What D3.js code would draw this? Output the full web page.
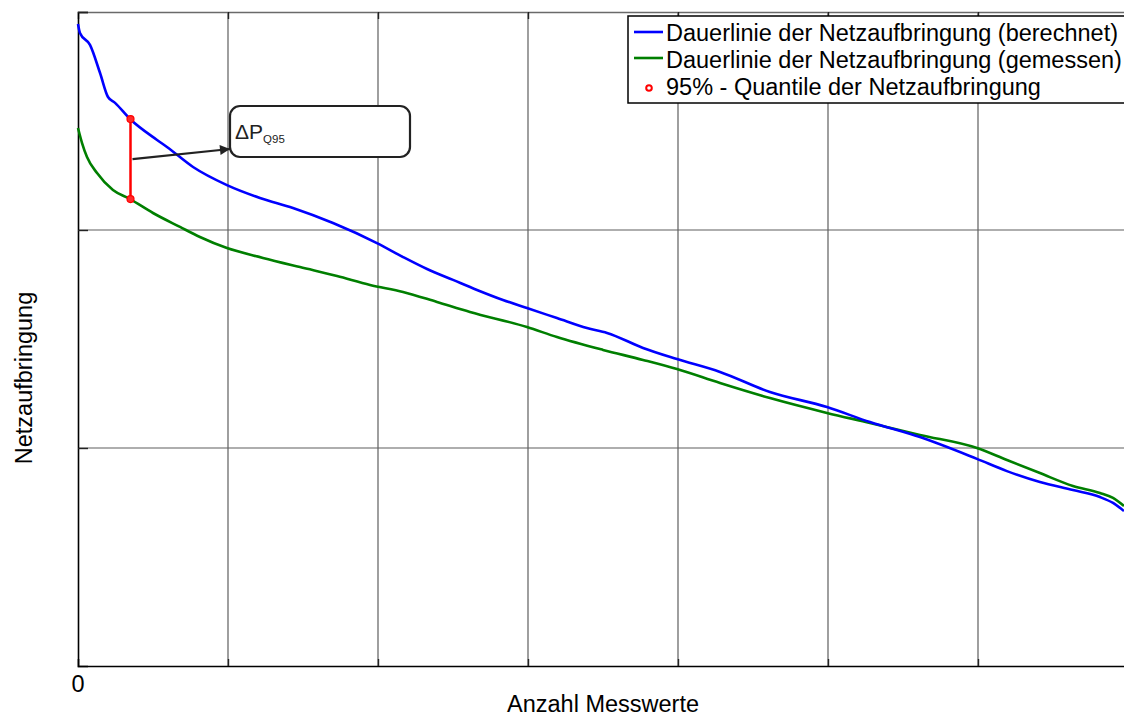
<!DOCTYPE html>
<html lang="de">
<head>
  <meta charset="utf-8">
  <script src="https://d3js.org/d3.v7.min.js"></script>
  <style>
    body { margin: 0; background: #fff; }
    text { font-family: "Liberation Sans", Arial, sans-serif; }
  </style>
</head>
<body>
  <svg id="chart" width="1124" height="716"></svg>

  <script>
    // Dauerlinie (berechnet)
    const calcX = [0, 13, 80, 147, 200, 247, 347, 527, 593, 767, 993, 1213, 1433, 1700, 1993, 2167, 2327, 2500, 2660, 2833,
      2993, 3193, 3393, 3527, 3767, 3993, 4280, 4613, 4993, 5280, 5613, 5993, 6193, 6413, 6633, 6813, 6900, 6973];
    const calcY = [294.5, 290.4, 284.9, 272.0, 261.0, 258.3, 250.9, 241.3, 238.1, 228.9, 220.6, 214.7, 210.1, 203.2, 194.0, 187.6, 182.1, 177.1, 172.5, 167.9,
      164.2, 159.6, 155.0, 152.8, 145.9, 140.8, 134.9, 125.7, 118.8, 111.9, 105.0, 95.0, 89.4, 84.4, 80.7, 77.5, 74.8, 71.1];

    // Dauerlinie (gemessen)
    const measX = [0, 27, 60, 127, 233, 347, 500, 680, 813, 993, 1233, 1480, 1727, 1947, 2167, 2393, 2613, 2993, 3193, 3500,
      3767, 3993, 4280, 4613, 4993, 5280, 5613, 5993, 6193, 6413, 6633, 6813, 6900, 6973];
    const measY = [246.8, 239.9, 233.5, 226.1, 218.3, 214.2, 207.8, 201.4, 196.8, 191.7, 187.2, 183.0, 178.9, 174.8, 171.6, 167.0, 162.4, 155.5, 150.9, 145.0,
      140.4, 136.2, 129.8, 122.9, 116.1, 111.5, 106.0, 100.0, 94.5, 88.5, 82.6, 79.4, 77.1, 73.4];

    // 95% quantile
    const q95X = 350;
    const q95Y = [250.9, 214.2];

    const xTicks = [1000, 2000, 3000, 4000, 5000, 6000];
    const yTicks = [100, 200];
    const legendLabels = ["Dauerlinie der Netzaufbringung (berechnet)",
      "Dauerlinie der Netzaufbringung (gemessen)",
      "95% - Quantile der Netzaufbringung"];

    const svg = d3.select("#chart");
    const pLeft = 78, pRight = 1128, pTop = 12, pBottom = 666;
    const fs = 23.5;

    const x = d3.scaleLinear().domain([0, 7000]).range([pLeft, pRight]);
    const y = d3.scaleLinear().domain([0, 300]).range([pBottom, pTop]);

    // grid
    svg.append("g")
      .selectAll("line")
      .data(xTicks)
      .join("line")
      .attr("x1", d => x(d)).attr("x2", d => x(d))
      .attr("y1", pTop).attr("y2", pBottom)
      .attr("stroke", "#5e5e5e").attr("stroke-width", 1.2);

    svg.append("g")
      .selectAll("line")
      .data(yTicks)
      .join("line")
      .attr("x1", pLeft).attr("x2", pRight)
      .attr("y1", d => y(d)).attr("y2", d => y(d))
      .attr("stroke", "#5e5e5e").attr("stroke-width", 1.2);

    // axes with short inner ticks
    const xAxis = svg.append("g")
      .attr("transform", `translate(0,${pBottom})`)
      .call(d3.axisTop(x).tickValues(xTicks).tickSize(7).tickFormat(""));
    const xAxisTop = svg.append("g")
      .attr("transform", `translate(0,${pTop})`)
      .call(d3.axisBottom(x).tickValues(xTicks).tickSize(7).tickFormat(""));
    const yAxis = svg.append("g")
      .attr("transform", `translate(${pLeft},0)`)
      .call(d3.axisRight(y).tickValues(yTicks.concat([300])).tickSize(10).tickFormat(""));

    [xAxis, xAxisTop, yAxis].forEach(g => {
      g.select(".domain").attr("stroke", "#000").attr("stroke-width", 1.6);
      g.selectAll(".tick line").attr("stroke", "#222").attr("stroke-width", 1.4);
    });
    xAxisTop.select(".domain").attr("stroke", "#6a6a6a");

    // zero label
    svg.append("text")
      .attr("x", x(0)).attr("y", 692)
      .attr("text-anchor", "middle")
      .attr("font-size", fs)
      .text("0");

    // axis titles
    svg.append("text")
      .attr("x", (pLeft + pRight) / 2).attr("y", 712)
      .attr("text-anchor", "middle")
      .attr("font-size", fs)
      .text("Anzahl Messwerte");

    svg.append("text")
      .attr("transform", "translate(32,378) rotate(-90)")
      .attr("text-anchor", "middle")
      .attr("font-size", fs)
      .text("Netzaufbringung");

    // lines
    const line = d3.line()
      .x(d => x(d[0]))
      .y(d => y(d[1]))
      .curve(d3.curveMonotoneX);

    const calc = calcX.map((v, i) => [v, calcY[i]]);
    const meas = measX.map((v, i) => [v, measY[i]]);

    svg.append("path")
      .datum(meas)
      .attr("fill", "none")
      .attr("stroke", "#007f00")
      .attr("stroke-width", 2.6)
      .attr("d", line);

    svg.append("path")
      .datum(calc)
      .attr("fill", "none")
      .attr("stroke", "#0000ff")
      .attr("stroke-width", 2.6)
      .attr("d", line);

    // quantile marker
    svg.append("line")
      .attr("x1", x(q95X)).attr("x2", x(q95X))
      .attr("y1", y(q95Y[0])).attr("y2", y(q95Y[1]))
      .attr("stroke", "#ff0000").attr("stroke-width", 2.5);

    svg.append("g")
      .selectAll("circle")
      .data(q95Y)
      .join("circle")
      .attr("cx", x(q95X))
      .attr("cy", d => y(d))
      .attr("r", 3.5)
      .attr("fill", "#ff2a2a")
      .attr("stroke", "#ff0000")
      .attr("stroke-width", 1.2);

    // annotation: arrow + rounded box
    svg.append("defs").append("marker")
      .attr("id", "head")
      .attr("viewBox", "0 0 10 10")
      .attr("refX", 10).attr("refY", 5)
      .attr("markerWidth", 14).attr("markerHeight", 10)
      .attr("markerUnits", "userSpaceOnUse")
      .attr("orient", "auto")
      .append("path")
      .attr("d", "M0,0 L10,5 L0,10 z")
      .attr("fill", "#222");

    const midY = y((q95Y[0] + q95Y[1]) / 2);
    svg.append("line")
      .attr("x1", x(q95X) + 2).attr("y1", midY)
      .attr("x2", 230).attr("y2", 149)
      .attr("stroke", "#222").attr("stroke-width", 2.2)
      .attr("marker-end", "url(#head)");

    svg.append("rect")
      .attr("x", 230).attr("y", 106)
      .attr("width", 180).attr("height", 51)
      .attr("rx", 10).attr("ry", 10)
      .attr("fill", "#fff")
      .attr("stroke", "#222").attr("stroke-width", 2.2);

    const dp = svg.append("text")
      .attr("x", 235).attr("y", 139)
      .attr("font-size", 21)
      .attr("fill", "#222");
    dp.append("tspan").text("ΔP");
    dp.append("tspan").attr("font-size", 11.5).attr("dy", 4).text("Q95");

    // legend
    const lg = svg.append("g").attr("transform", "translate(628,16)");
    lg.append("rect")
      .attr("width", 520).attr("height", 87)
      .attr("fill", "#fff")
      .attr("stroke", "#000").attr("stroke-width", 1.5);

    const rowY = [16, 42, 72];
    const textY = [25, 52, 79];
    lg.append("line")
      .attr("x1", 6).attr("x2", 35).attr("y1", rowY[0]).attr("y2", rowY[0])
      .attr("stroke", "#0000ff").attr("stroke-width", 2.6);
    lg.append("line")
      .attr("x1", 6).attr("x2", 35).attr("y1", rowY[1]).attr("y2", rowY[1])
      .attr("stroke", "#007f00").attr("stroke-width", 2.6);
    lg.append("circle")
      .attr("cx", 21).attr("cy", rowY[2]).attr("r", 2.8)
      .attr("fill", "#fff").attr("stroke", "#ff0000").attr("stroke-width", 2);

    lg.selectAll("text.lbl")
      .data(legendLabels)
      .join("text")
      .attr("class", "lbl")
      .attr("x", 38)
      .attr("y", (d, i) => textY[i])
      .attr("font-size", fs)
      .text(d => d);
  </script>
</body>
</html>
